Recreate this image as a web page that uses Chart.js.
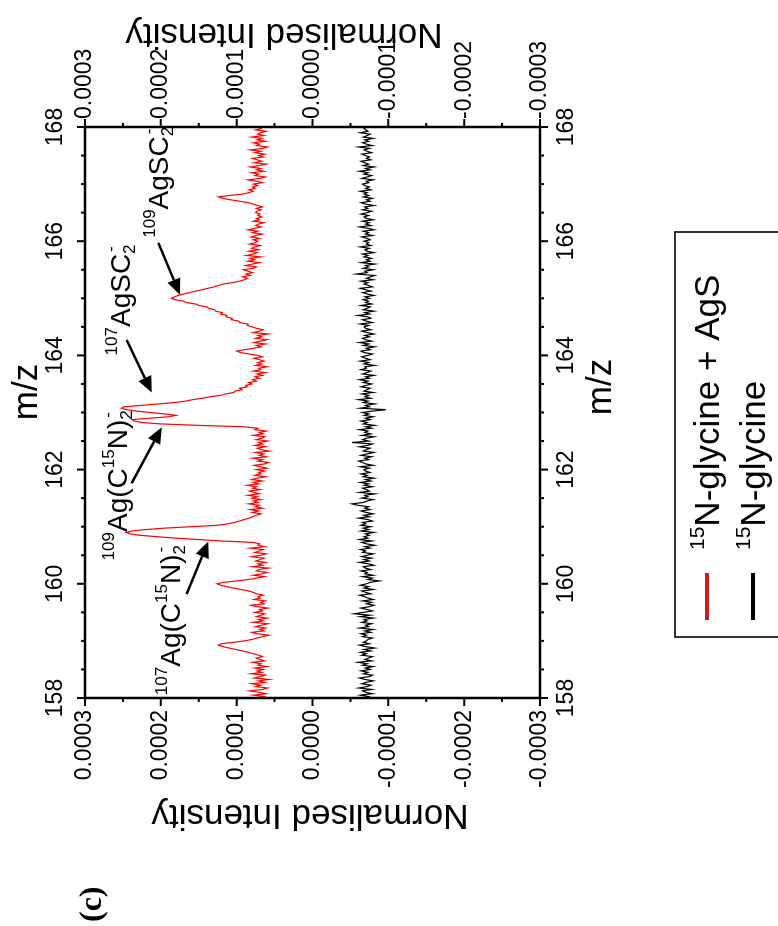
<!DOCTYPE html>
<html>
<head>
<meta charset="utf-8">
<script src="https://cdn.jsdelivr.net/npm/chart.js@4.4.1/dist/chart.umd.min.js"></script>
<style>
html, body { margin:0; padding:0; background:#fff; overflow:hidden; }
#wrap { position:absolute; left:0; top:0; width:926px; height:778px;
  transform-origin:0 0; transform:translateY(926px) rotate(-90deg); background:#fff; }
</style>
</head>
<body>
<div id="wrap"><canvas id="grafico" width="926" height="778"></canvas></div>
<script>
// m/z grid
const mzInicio = 158;
const mzPaso = 0.025;

// intensities, units of 1e-6
const rojo = [
72,64,78,61,70,83,66,59,75,68,80,63,71,57,77,69,62,81,67,73,
65,76,60,72,68,79,63,70,74,66,71,78,84,92,101,110,118,124,120,104,
90,80,73,66,58,73,80,64,70,62,75,67,59,78,65,71,60,74,68,63,
76,66,70,59,73,81,64,68,62,77,69,72,65,74,78,84,94,104,113,121,
126,118,100,84,74,63,78,67,60,74,71,58,79,66,72,62,75,69,64,80,
68,61,76,70,65,82,63,72,70,78,120,150,180,205,228,240,246,238,220,195,
160,125,112,103,96,90,84,79,74,68,79,71,82,66,75,70,84,72,78,68,
80,73,85,70,77,83,69,79,74,86,71,78,66,80,73,62,76,68,71,63,
74,60,69,77,63,58,72,66,79,61,70,64,75,57,68,73,62,76,66,71,
59,74,67,63,78,65,70,61,76,72,90,150,200,225,235,238,215,190,180,195,
215,232,245,252,249,226,203,182,167,158,145,136,121,115,104,102,93,96,86,88,
80,84,74,79,70,76,66,73,62,78,68,71,60,75,67,72,64,70,77,66,
72,84,95,100,90,78,68,74,62,77,69,60,75,67,72,58,78,70,65,74,
80,86,85,96,97,107,106,114,113,121,119,128,129,137,139,150,154,166,170,181,
186,182,177,170,162,154,146,138,130,124,118,105,96,90,86,92,82,88,79,85,
91,78,74,88,79,70,85,76,82,68,87,78,73,84,71,80,76,69,83,75,
72,78,70,81,74,66,79,72,85,77,68,75,71,64,78,70,74,67,72,69,
75,73,68,74,66,72,78,85,96,108,118,124,110,92,84,78,84,76,79,72,
78,66,73,85,69,62,76,71,80,64,74,68,82,70,61,77,67,73,79,65,
71,63,76,68,82,66,59,74,70,78,62,73,67,80,64,72,69,61,75,68,
70
];

const negro = [
-68,-74,-63,-79,-70,-66,-78,-61,-72,-77,-65,-71,-80,-69,-62,-75,-79,-67,-73,-64,
-76,-70,-80,-66,-72,-60,-78,-69,-74,-79,-65,-71,-63,-77,-68,-82,-70,-62,-75,-67,
-71,-73,-79,-66,-71,-64,-77,-69,-80,-62,-74,-70,-78,-65,-72,-68,-80,-63,-76,-55,
-67,-79,-72,-64,-75,-81,-71,-78,-66,-80,-73,-69,-62,-77,-70,-65,-80,-68,-74,-63,
-71,-76,-88,-73,-79,-66,-80,-69,-72,-64,-77,-70,-67,-81,-74,-62,-75,-68,-78,-65,
-72,-80,-66,-70,-63,-76,-69,-82,-71,-65,-78,-62,-73,-68,-75,-70,-81,-64,-74,-67,
-77,-64,-70,-66,-79,-73,-61,-75,-68,-80,-71,-64,-76,-69,-74,-60,-52,-67,-72,-80,
-65,-73,-69,-82,-62,-75,-71,-66,-79,-68,-74,-63,-77,-70,-81,-67,-72,-64,-76,-70,
-68,-75,-63,-80,-70,-66,-61,-74,-69,-78,-64,-72,-81,-67,-71,-76,-62,-73,-79,-52,
-74,-66,-71,-81,-65,-77,-69,-73,-62,-78,-70,-82,-67,-72,-64,-76,-70,-80,-68,-74,
-66,-79,-97,-63,-75,-70,-82,-67,-73,-61,-77,-69,-74,-65,-80,-68,-72,-76,-64,-71,
-78,-67,-73,-62,-75,-70,-81,-66,-72,-77,-64,-71,-69,-82,-68,-74,-63,-76,-70,-65,
-73,-79,-68,-64,-76,-71,-82,-67,-74,-62,-78,-70,-66,-75,-69,-81,-72,-65,-77,-70,
-68,-74,-63,-79,-71,-66,-77,-73,-60,-75,-69,-81,-67,-72,-76,-64,-78,-70,-74,-67,
-75,-69,-81,-72,-66,-77,-70,-63,-79,-74,-68,-73,-64,-80,-71,-76,-82,-58,-72,-69,
-80,-67,-74,-70,-82,-64,-76,-71,-78,-68,-73,-66,-81,-72,-69,-75,-63,-77,-71,-74,
-68,-76,-72,-65,-79,-70,-74,-67,-81,-73,-62,-77,-70,-75,-66,-80,-71,-68,-74,-64,
-72,-78,-66,-73,-69,-81,-70,-64,-76,-71,-79,-67,-74,-68,-72,-63,-77,-70,-75,-69,
-66,-74,-71,-80,-65,-72,-78,-68,-73,-62,-76,-70,-81,-67,-74,-69,-64,-77,-71,-75,
-70,-65,-78,-72,-68,-75,-61,-79,-71,-66,-74,-69,-80,-67,-72,-76,-63,-73,-70,-68,
-71
];

const series = [
    { sup: "15", nombre: "N-glycine + AgS", color: "#ff0000", muestra: "#cc1c1c" },
    { sup: "15", nombre: "N-glycine", color: "#000000", muestra: "#000000" }
];

// peak labels: [text, style] pieces, anchor (m/z, intensity), arrow tail -> tip
const etiquetas = [
    { partes: [["107","sup"],["Ag(C",""],["15","sup"],["N)",""],["2","sub"],["-","pila"]],
      pos: [158.05, 0.000175], flecha: [[159.82, 0.000166], [160.74, 0.0001374]] },
    { partes: [["109","sup"],["Ag(C",""],["15","sup"],["N)",""],["2","sub"],["-","pila"]],
      pos: [160.41, 0.000245], flecha: [[161.76, 0.0002384], [162.74, 0.0001989]] },
    { partes: [["107","sup"],["AgSC",""],["2","sub"],["-","pila"]],
      pos: [164.0, 0.000241], flecha: [[164.27, 0.000245], [163.35, 0.000212]] },
    { partes: [["109","sup"],["AgSC",""],["2","sub"],["-","pila"]],
      pos: [166.06, 0.00019], flecha: [[165.97, 0.0002033], [165.06, 0.0001747]] }
];

const mz = rojo.map((_, i) => Math.round((mzInicio + i * mzPaso) * 1000) / 1000);

const FUENTE = '"Liberation Sans", Arial, sans-serif';

function etiquetaMz(v) {
    return Math.round(v * 2) % 4 === 0 ? String(Math.round(v)) : "";
}
function etiquetaInt(v) {
    const k = Math.round(v / 0.00005);
    if (k % 2 !== 0) return "";
    if (k === 0) return "0.0000";
    return (k / 20000).toFixed(4);
}

function ejeX(pos, padding, alto) {
    return {
        type: "linear", position: pos, min: 158, max: 168,
        border: { display: false },
        grid: { drawOnChartArea: false, drawTicks: true, tickLength: 8, tickColor: "rgba(0,0,0,0)" },
        ticks: { stepSize: 0.5, autoSkip: false, maxRotation: 0, padding: padding,
                 color: "#000", font: { family: FUENTE, size: 23 }, callback: etiquetaMz },
        afterFit: s => { s.height = alto; }
    };
}
function ejeY(pos, padding, ancho) {
    return {
        type: "linear", position: pos, min: -0.0003, max: 0.0003,
        border: { display: false },
        grid: { drawOnChartArea: false, drawTicks: true, tickLength: 8, tickColor: "rgba(0,0,0,0)" },
        ticks: { stepSize: 0.00005, autoSkip: false, padding: padding,
                 color: "#000", font: { family: FUENTE, size: 23 }, callback: etiquetaInt },
        afterFit: s => { s.width = ancho; }
    };
}

function textoRico(ctx, x, y, partes, F, f) {
    let inicioAnterior = x;
    partes.forEach(([t, estilo]) => {
        if (estilo === "sup") {
            ctx.font = f + "px " + FUENTE;
            ctx.fillText(t, x, y - 13);
            inicioAnterior = x;
            x += ctx.measureText(t).width;
        } else if (estilo === "sub") {
            ctx.font = f + "px " + FUENTE;
            ctx.fillText(t, x, y + 5);
            inicioAnterior = x;
            x += ctx.measureText(t).width;
        } else if (estilo === "pila") {
            ctx.font = f + "px " + FUENTE;
            ctx.fillText(t, inicioAnterior + 2, y - 14);
        } else {
            ctx.font = F + "px " + FUENTE;
            ctx.fillText(t, x, y);
            x += ctx.measureText(t).width;
        }
    });
}

function flecha(ctx, x1, y1, x2, y2) {
    const ang = Math.atan2(y2 - y1, x2 - x1);
    const largo = 16, medio = 7;
    const bx = x2 - largo * Math.cos(ang), by = y2 - largo * Math.sin(ang);
    ctx.lineWidth = 2.5;
    ctx.beginPath(); ctx.moveTo(x1, y1); ctx.lineTo(bx, by); ctx.stroke();
    ctx.beginPath();
    ctx.moveTo(x2, y2);
    ctx.lineTo(bx + medio * Math.sin(ang), by - medio * Math.cos(ang));
    ctx.lineTo(bx - medio * Math.sin(ang), by + medio * Math.cos(ang));
    ctx.closePath(); ctx.fill();
}

const dibujo = {
    id: "dibujo",
    afterDraw(chart) {
        const ctx = chart.ctx, a = chart.chartArea;
        const sx = chart.scales.x, sy = chart.scales.y;
        ctx.save();
        ctx.strokeStyle = "#000"; ctx.fillStyle = "#000";

        // ticks, outward, major long / minor short
        ctx.lineWidth = 2;
        ctx.beginPath();
        sx.ticks.forEach(t => {
            const px = sx.getPixelForValue(t.value);
            const l = etiquetaMz(t.value) ? 8 : 4;
            ctx.moveTo(px, a.bottom); ctx.lineTo(px, a.bottom + l);
            ctx.moveTo(px, a.top); ctx.lineTo(px, a.top - l);
        });
        sy.ticks.forEach(t => {
            const py = sy.getPixelForValue(t.value);
            const l = etiquetaInt(t.value) ? 8 : 4;
            ctx.moveTo(a.left, py); ctx.lineTo(a.left - l, py);
            ctx.moveTo(a.right, py); ctx.lineTo(a.right + l, py);
        });
        ctx.stroke();

        // frame
        ctx.lineWidth = 2.5;
        ctx.strokeRect(a.left, a.top, a.right - a.left, a.bottom - a.top);

        // axis titles
        ctx.font = "35px " + FUENTE;
        ctx.textAlign = "center"; ctx.textBaseline = "middle";
        ctx.fillText("m/z", 534, 27);
        ctx.fillText("m/z", 539, 601);
        ctx.save(); ctx.translate(111, 310); ctx.rotate(-Math.PI / 2);
        ctx.fillText("Normalised Intensity", 0, 0); ctx.restore();
        ctx.save(); ctx.translate(892, 284); ctx.rotate(-Math.PI / 2);
        ctx.fillText("Normalised Intensity", 0, 0); ctx.restore();

        // panel tag
        ctx.textAlign = "left";
        ctx.font = 'bold 32px "Liberation Serif", "Times New Roman", serif';
        ctx.fillText("(c)", 4, 93);

        // peak labels and arrows
        ctx.save();
        ctx.beginPath(); ctx.rect(a.left, a.top, a.right - a.left, a.bottom - a.top); ctx.clip();
        ctx.textBaseline = "alphabetic";
        etiquetas.forEach(e => {
            textoRico(ctx, sx.getPixelForValue(e.pos[0]), sy.getPixelForValue(e.pos[1]), e.partes, 28, 17);
            const [p1, p2] = e.flecha;
            flecha(ctx, sx.getPixelForValue(p1[0]), sy.getPixelForValue(p1[1]),
                        sx.getPixelForValue(p2[0]), sy.getPixelForValue(p2[1]));
        });
        ctx.restore();

        // legend
        ctx.lineWidth = 2; ctx.strokeStyle = "#333";
        ctx.fillStyle = "#fff";
        ctx.fillRect(289, 675, 405, 130);
        ctx.strokeRect(289, 675, 405, 130);
        ctx.textBaseline = "alphabetic";
        series.forEach((s, i) => {
            const yc = 707 + i * 46;
            ctx.strokeStyle = s.muestra; ctx.lineWidth = 4;
            ctx.beginPath(); ctx.moveTo(306, yc); ctx.lineTo(353, yc); ctx.stroke();
            ctx.fillStyle = "#000";
            ctx.font = "21px " + FUENTE;
            ctx.fillText(s.sup, 376, yc + 12 - 15);
            const w = ctx.measureText(s.sup).width;
            ctx.font = "35px " + FUENTE;
            ctx.fillText(s.nombre, 376 + w, yc + 12);
        });
        ctx.restore();
    }
};

const grafico = new Chart(document.getElementById("grafico"), {
    type: "line",
    data: {
        datasets: [
            { label: series[0].sup + series[0].nombre, data: mz.map((m, i) => ({ x: m, y: rojo[i] * 1e-6 })),
              borderColor: series[0].color, borderWidth: 1.2, pointRadius: 0, tension: 0,
              xAxisID: "x", yAxisID: "y" },
            { label: series[1].sup + series[1].nombre, data: mz.map((m, i) => ({ x: m, y: negro[i] * 1e-6 })),
              borderColor: series[1].color, borderWidth: 1.2, pointRadius: 0, tension: 0,
              xAxisID: "x", yAxisID: "y" }
        ]
    },
    options: {
        responsive: false,
        animation: false,
        layout: { padding: 0 },
        plugins: { legend: { display: false }, tooltip: { enabled: false } },
        scales: {
            x: ejeX("bottom", 5, 238),
            x2: ejeX("top", 8, 85),
            y: ejeY("left", 4, 228),
            y2: ejeY("right", 0, 127)
        }
    },
    plugins: [dibujo]
});
</script>
</body>
</html>
